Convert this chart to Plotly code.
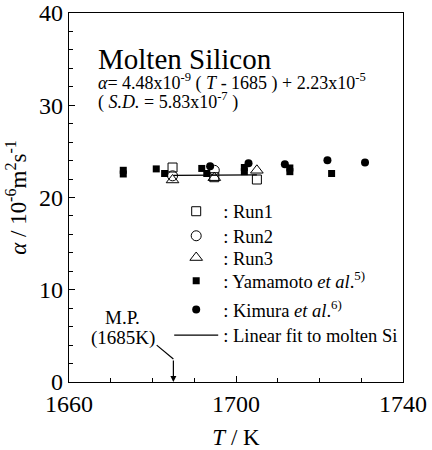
import plotly.graph_objects as go

FONT = "Liberation Serif"

# Data (alpha in 1e-6 m^2/s, T in K)
run1_T = [1684.8, 1694.8, 1705.0]
run1_a = [23.25, 22.2, 21.95]
run2_T = [1684.8, 1694.8]
run2_a = [22.35, 22.95]
run3_T = [1684.8, 1694.8, 1705.0]
run3_a = [21.9, 22.15, 22.95]
yam_T = [1673.0, 1673.0, 1680.9, 1682.9, 1691.8, 1693.0, 1702.0, 1702.0, 1712.9, 1712.9, 1722.9]
yam_a = [22.95, 22.55, 23.1, 22.6, 23.15, 22.6, 23.25, 22.8, 23.2, 22.8, 22.6]
kim_T = [1693.8, 1703.0, 1711.7, 1721.9, 1730.9]
kim_a = [23.4, 23.7, 23.6, 24.05, 23.8]
fit_T = [1685, 1705]
fit_a = [22.4, 22.45]
mp_T = 1685

names = [": Run1", ": Run2", ": Run3",
         ": Yamamoto <i>et al</i>.<sup>5)</sup>",
         ": Kimura <i>et al</i>.<sup>6)</sup>",
         ": Linear fit to molten Si"]
legend_rows = [0.4615, 0.395, 0.336, 0.273, 0.195, 0.126]

fig = go.Figure()
mk_line = dict(color="black", width=1)
fig.add_trace(go.Scatter(x=run1_T, y=run1_a, mode="markers", name=names[0], legend="legend",
                         marker=dict(symbol="square-open", size=9, color="black", line=mk_line)))
fig.add_trace(go.Scatter(x=run2_T, y=run2_a, mode="markers", name=names[1], legend="legend2",
                         marker=dict(symbol="circle-open", size=10, color="black", line=mk_line)))
fig.add_trace(go.Scatter(x=run3_T, y=run3_a, mode="markers", name=names[2], legend="legend3",
                         marker=dict(symbol="triangle-up-open", size=11, color="black", line=mk_line)))
fig.add_trace(go.Scatter(x=yam_T, y=yam_a, mode="markers", name=names[3], legend="legend4",
                         marker=dict(symbol="square", size=7, color="black")))
fig.add_trace(go.Scatter(x=kim_T, y=kim_a, mode="markers", name=names[4], legend="legend5",
                         marker=dict(symbol="circle", size=8, color="black")))
fig.add_trace(go.Scatter(x=fit_T, y=fit_a, mode="lines", name=names[5], legend="legend6",
                         line=dict(color="black", width=1.3)))

# M.P. arrow: bent line then vertical arrow
fig.add_shape(type="line", x0=1681.0, y0=4.0, x1=mp_T, y1=2.5, xref="x", yref="y",
              line=dict(color="black", width=1.2))
fig.add_annotation(x=mp_T, y=0, ax=mp_T, ay=2.5, axref="x", ayref="y", xref="x", yref="y",
                   text="", showarrow=True, arrowhead=2, arrowsize=1, arrowwidth=1.2, arrowcolor="black")
fig.add_annotation(x=1672.9, y=7.0, xref="x", yref="y", text="M.P.", showarrow=False,
                   font=dict(family=FONT, size=19, color="black"))
fig.add_annotation(x=1673.0, y=4.8, xref="x", yref="y", text="(1685K)", showarrow=False,
                   font=dict(family=FONT, size=19, color="black"))

fig.add_annotation(x=0.08, y=0.875, xref="paper", yref="paper", xanchor="left", yanchor="middle",
                   text="Molten Silicon", showarrow=False,
                   font=dict(family=FONT, size=29, color="black"))
fig.add_annotation(x=0.08, y=0.814, xref="paper", yref="paper", xanchor="left", yanchor="middle",
                   text="<i>α</i>= 4.48x10<sup>-9</sup> ( <i>T</i> - 1685 ) + 2.23x10<sup>-5</sup>",
                   showarrow=False, font=dict(family=FONT, size=18, color="black"))
fig.add_annotation(x=0.08, y=0.761, xref="paper", yref="paper", xanchor="left", yanchor="middle",
                   text="( <i>S.D.</i> = 5.83x10<sup>-7</sup> )",
                   showarrow=False, font=dict(family=FONT, size=18, color="black"))

leg_common = dict(x=0.30, xanchor="left", yanchor="middle", bgcolor="rgba(0,0,0,0)",
                  font=dict(family=FONT, size=18.5, color="black"), itemwidth=44)
layout_legends = {}
for i, yy in enumerate(legend_rows):
    key = "legend" if i == 0 else f"legend{i+1}"
    layout_legends[key] = dict(y=yy, **leg_common)

fig.update_layout(
    width=432, height=450,
    margin=dict(l=69, r=29, t=13, b=68, autoexpand=False),
    paper_bgcolor="white", plot_bgcolor="white",
    font=dict(family=FONT, size=21, color="black"),
    showlegend=True,
    **layout_legends,
)
fig.update_xaxes(range=[1660, 1740], dtick=40, tick0=1660, ticks="inside", ticklen=6,
                 tickwidth=1, tickcolor="black", showline=True, linecolor="black", linewidth=1.2,
                 mirror=True, showgrid=False, zeroline=False, automargin=False,
                 minor=dict(dtick=10, ticks="inside", ticklen=3.5, tickcolor="black", showgrid=False),
                 title=dict(text="<i>T</i> / K", font=dict(family=FONT, size=23), standoff=14),
                 tickfont=dict(family=FONT, size=24))
fig.update_yaxes(range=[0, 40], dtick=10, ticks="inside", ticklen=6,
                 tickwidth=1, tickcolor="black", showline=True, linecolor="black", linewidth=1.2,
                 mirror=True, showgrid=False, zeroline=False, automargin=False,
                 minor=dict(dtick=2, ticks="inside", ticklen=3.5, tickcolor="black", showgrid=False),
                 title=dict(text="<i>α</i> / 10<sup>-6</sup>m<sup>2</sup>s<sup>-1</sup>",
                            font=dict(family=FONT, size=23), standoff=6),
                 tickfont=dict(family=FONT, size=24))

fig.write_html("out.html")
